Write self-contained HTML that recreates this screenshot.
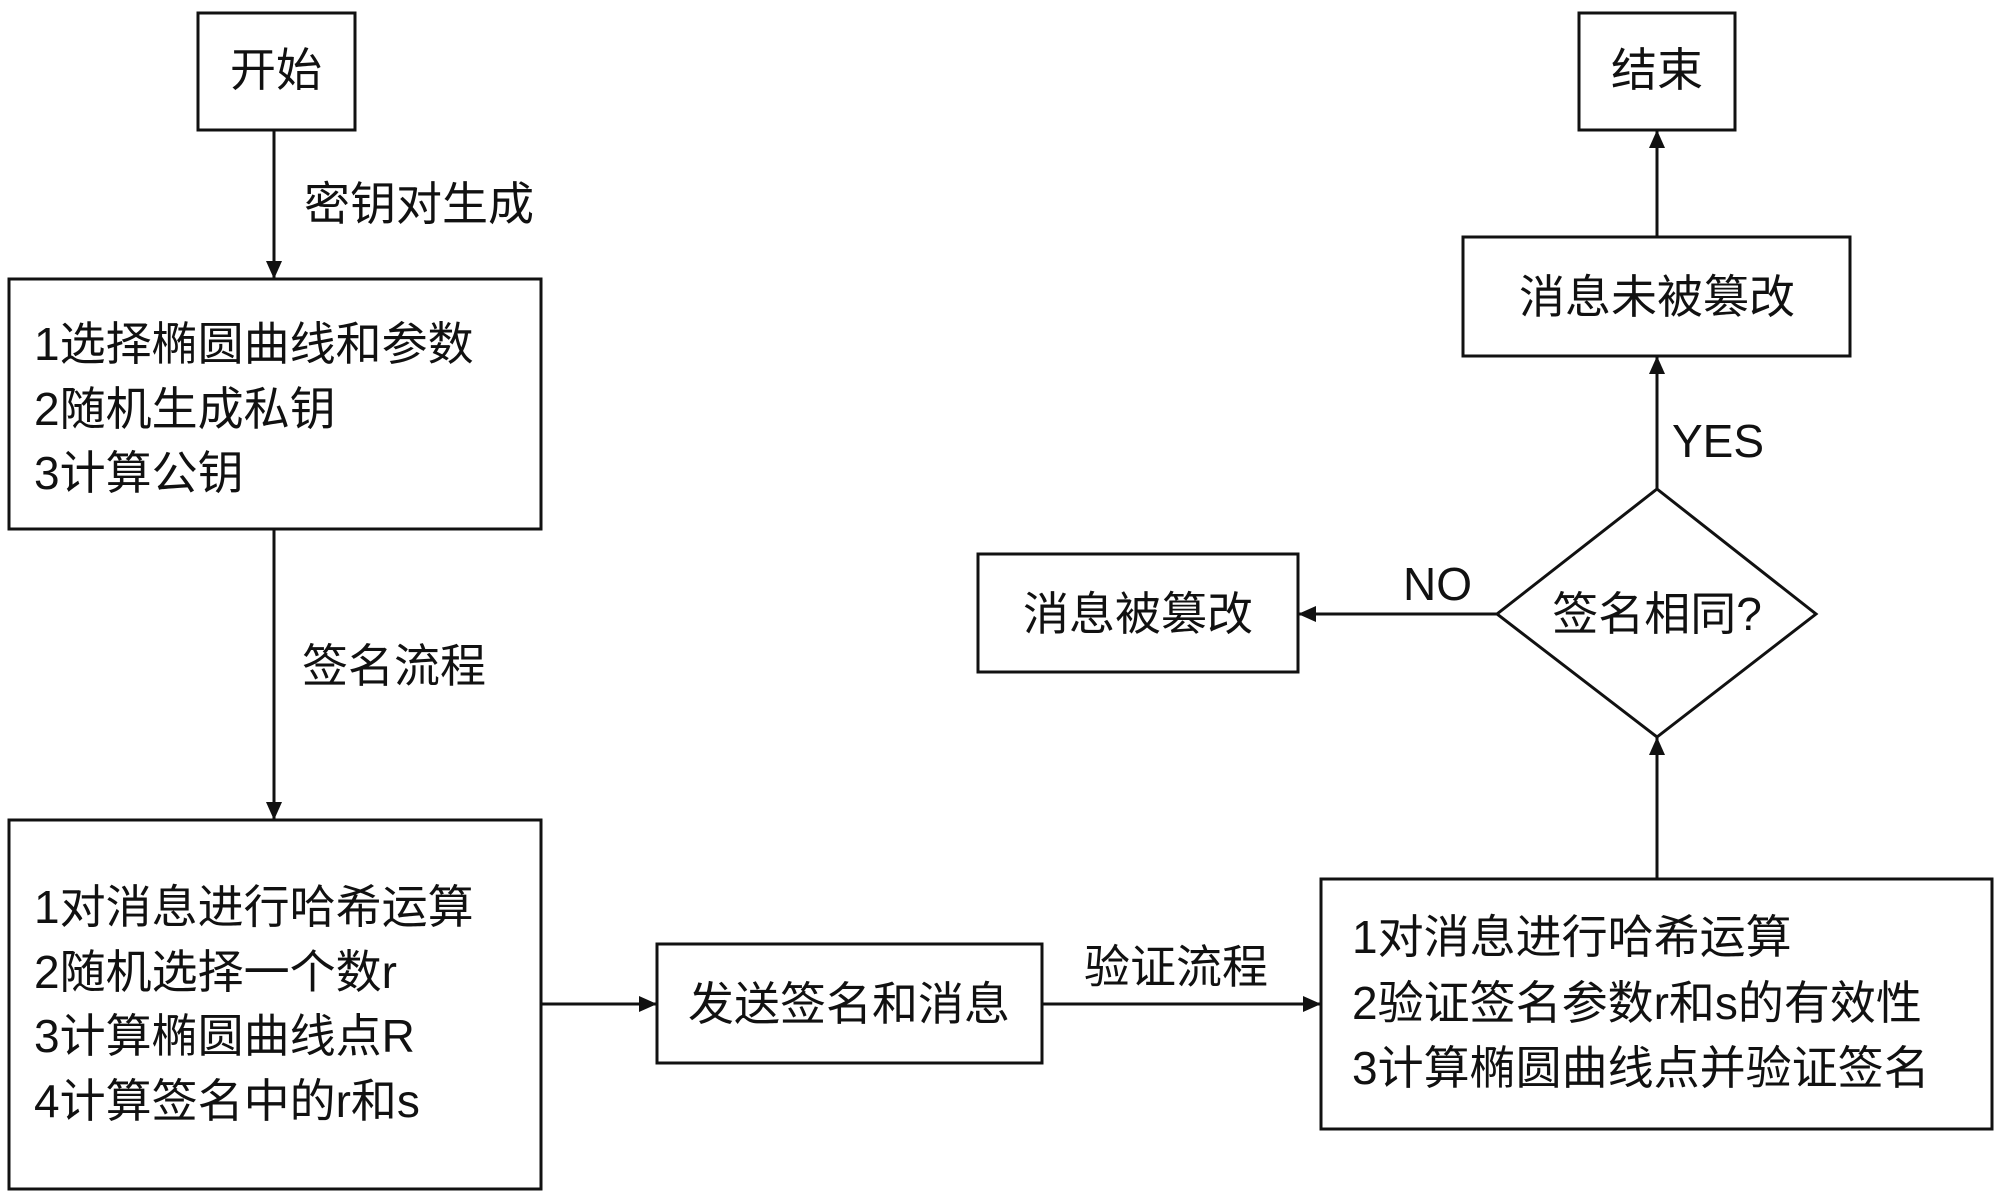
<!DOCTYPE html>
<html><head><meta charset="utf-8"><style>
html,body{margin:0;padding:0;background:#fff;}
svg text{font-family:"Liberation Sans","Noto Sans CJK SC",sans-serif;fill:#111;}
</style></head><body>
<svg width="2000" height="1199" viewBox="0 0 2000 1199" xmlns="http://www.w3.org/2000/svg">
<defs><marker id="a" markerWidth="10" markerHeight="10" refX="9" refY="5" orient="auto" markerUnits="userSpaceOnUse"><path d="M0,0 L10,5 L0,10 z" fill="#111"/></marker>
<marker id="b" markerWidth="20" markerHeight="20" refX="18" refY="8" orient="auto" markerUnits="userSpaceOnUse"><path d="M0,0 L18,8 L0,16 z" fill="#111"/></marker></defs>
<g fill="none" stroke="#111" stroke-width="3">
<rect x="198" y="13" width="157" height="117"/>
<rect x="9" y="279" width="532" height="250"/>
<rect x="9" y="820" width="532" height="369"/>
<rect x="657" y="944" width="385" height="119"/>
<rect x="1321" y="879" width="671" height="250"/>
<polygon points="1657,489 1816,614 1657,737 1497,614"/>
<rect x="978" y="554" width="320" height="118"/>
<rect x="1463" y="237" width="387" height="119"/>
<rect x="1579" y="13" width="156" height="117"/>
<line x1="274" y1="130" x2="274" y2="279" marker-end="url(#b)"/>
<line x1="274" y1="529" x2="274" y2="820" marker-end="url(#b)"/>
<line x1="541" y1="1004" x2="657" y2="1004" marker-end="url(#b)"/>
<line x1="1042" y1="1004" x2="1321" y2="1004" marker-end="url(#b)"/>
<line x1="1657" y1="879" x2="1657" y2="737" marker-end="url(#b)"/>
<line x1="1497" y1="614" x2="1298" y2="614" marker-end="url(#b)"/>
<line x1="1657" y1="489" x2="1657" y2="356" marker-end="url(#b)"/>
<line x1="1657" y1="237" x2="1657" y2="130" marker-end="url(#b)"/>
</g>
<g font-size="46">
<text x="276" y="86" text-anchor="middle">开始</text>
<text x="1657" y="86" text-anchor="middle">结束</text>
<text x="304" y="220">密钥对生成</text>
<text x="34" y="360">1选择椭圆曲线和参数</text>
<text x="34" y="425">2随机生成私钥</text>
<text x="34" y="489">3计算公钥</text>
<text x="302" y="682">签名流程</text>
<text x="34" y="923">1对消息进行哈希运算</text>
<text x="34" y="988">2随机选择一个数r</text>
<text x="34" y="1052">3计算椭圆曲线点R</text>
<text x="34" y="1117">4计算签名中的r和s</text>
<text x="849" y="1020" text-anchor="middle">发送签名和消息</text>
<text x="1084" y="983">验证流程</text>
<text x="1352" y="953">1对消息进行哈希运算</text>
<text x="1352" y="1019">2验证签名参数r和s的有效性</text>
<text x="1352" y="1084">3计算椭圆曲线点并验证签名</text>
<text x="1657" y="630" text-anchor="middle">签名相同?</text>
<text x="1138" y="630" text-anchor="middle">消息被篡改</text>
<text x="1403" y="600">NO</text>
<text x="1672" y="457">YES</text>
<text x="1657" y="313" text-anchor="middle">消息未被篡改</text>
</g>
</svg>
</body></html>
